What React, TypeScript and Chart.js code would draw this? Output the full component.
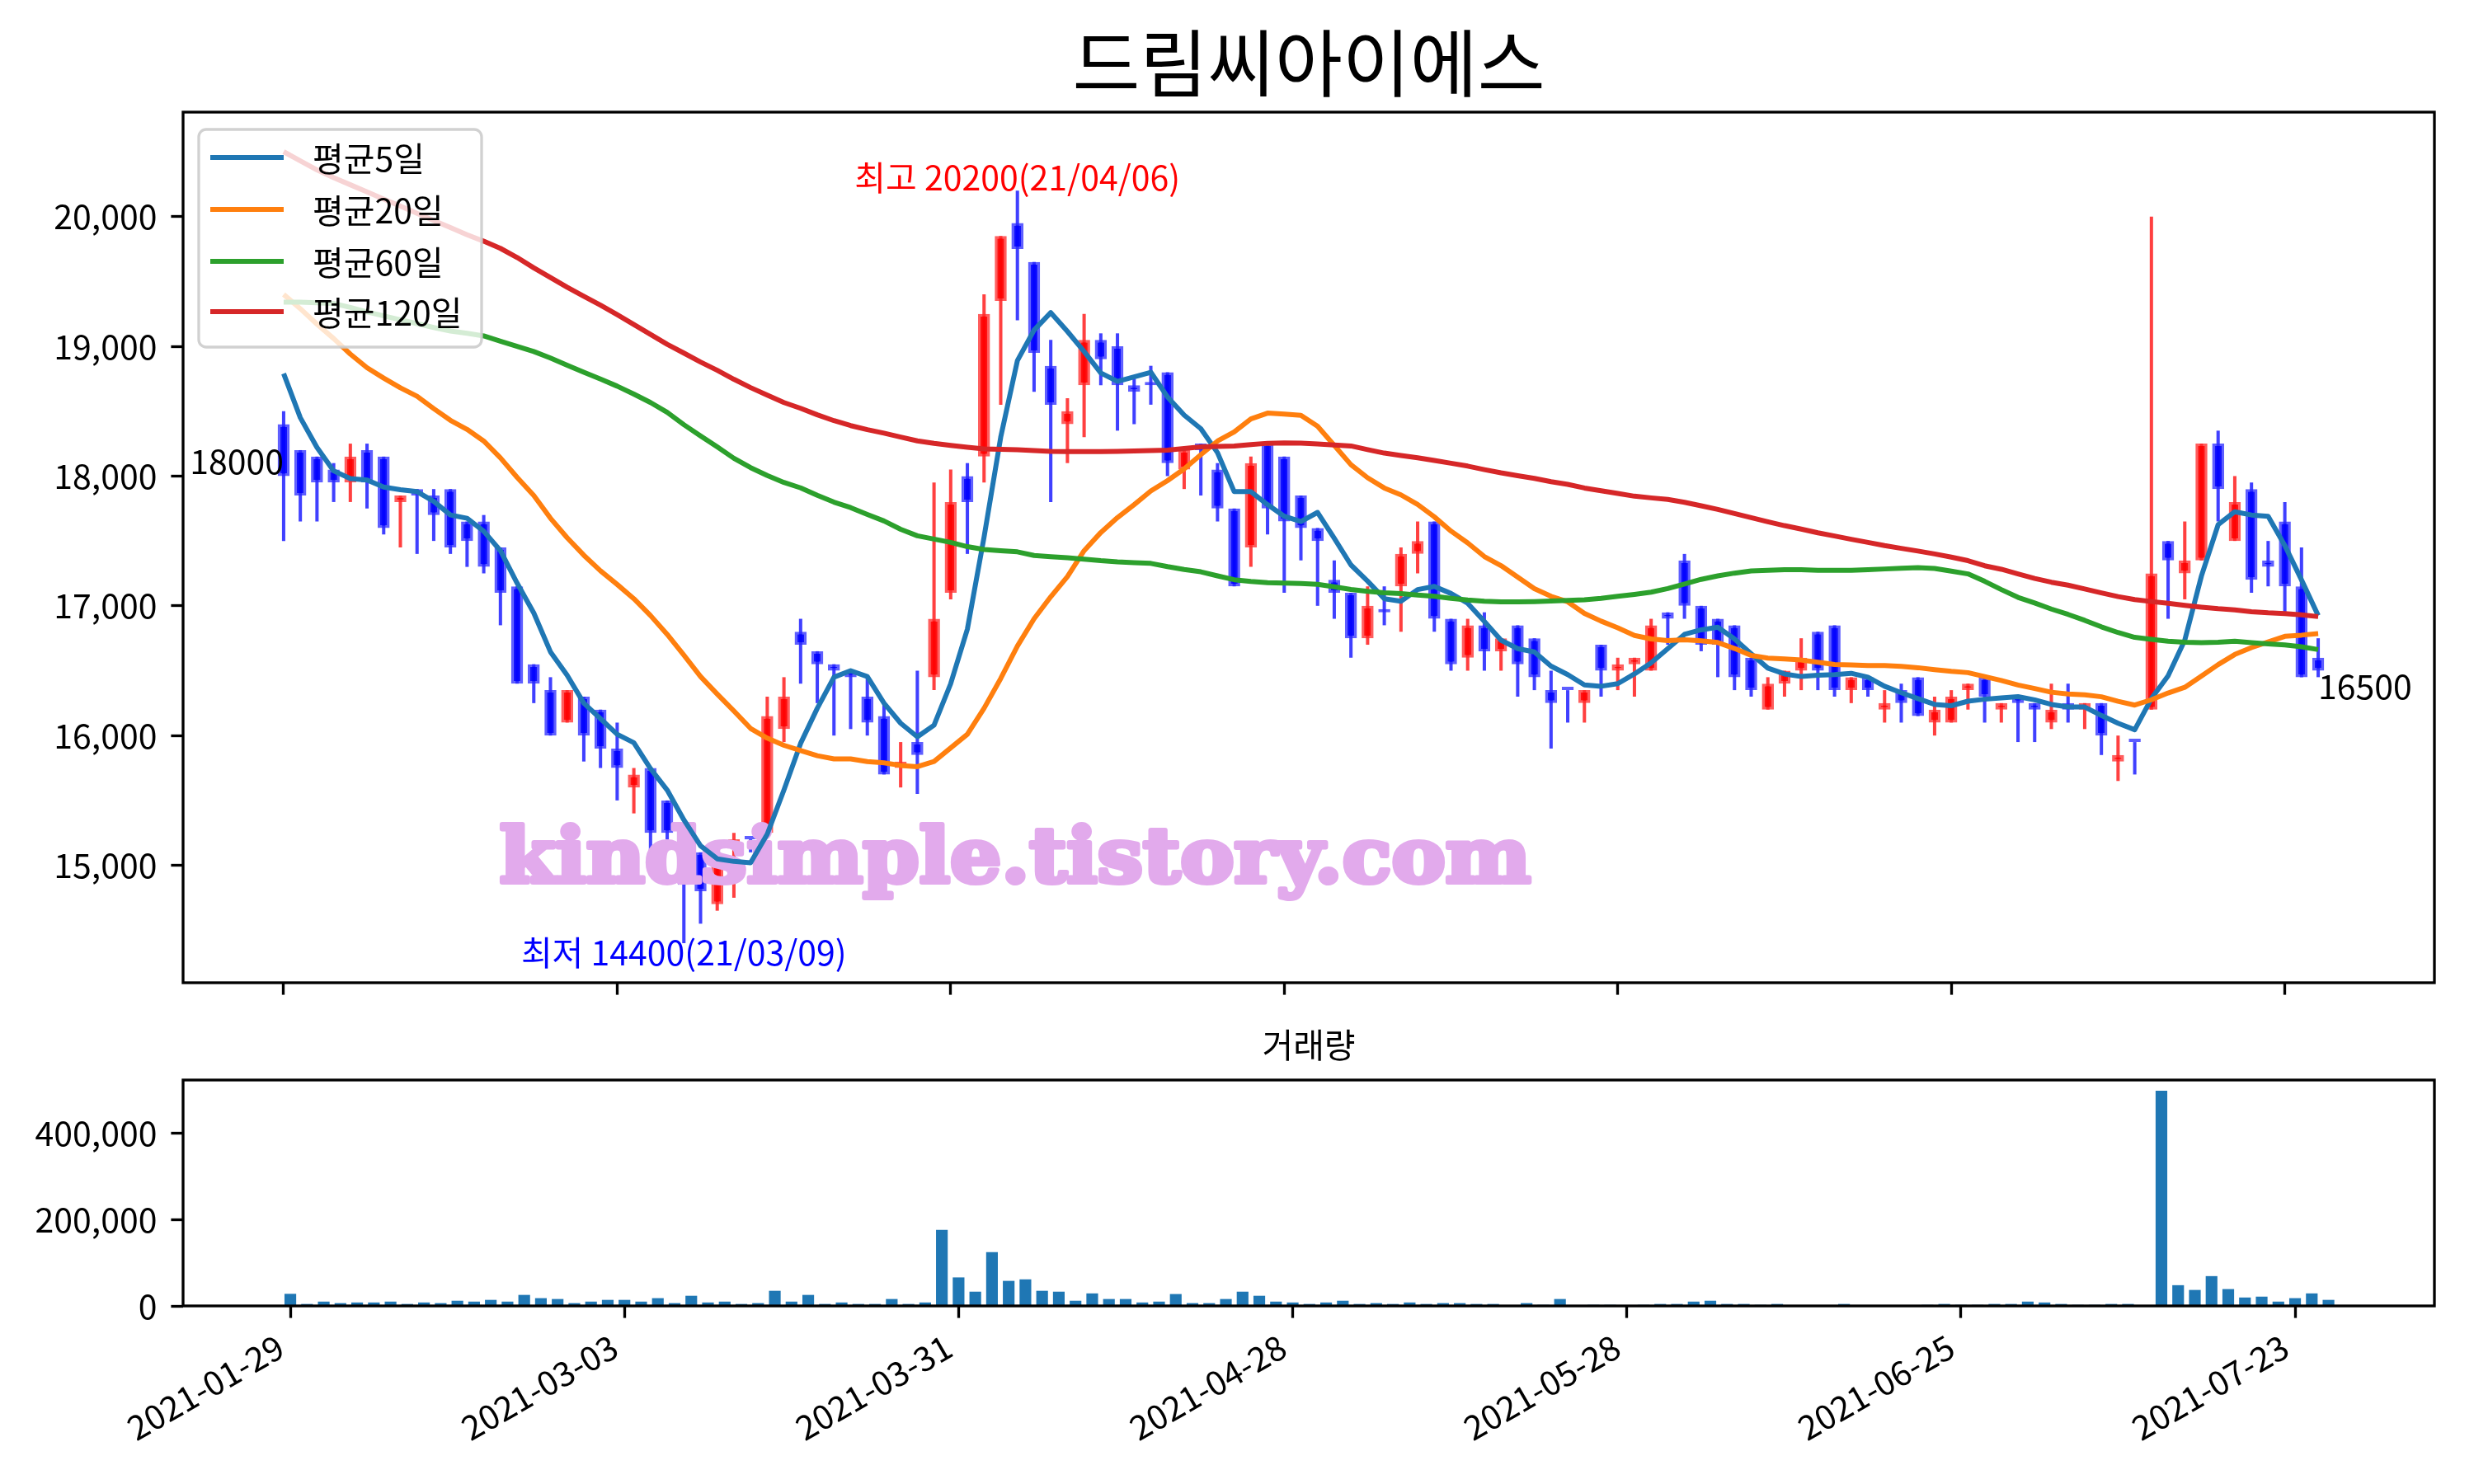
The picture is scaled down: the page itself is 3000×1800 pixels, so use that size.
import React, { useEffect, useRef } from "react";
import { Chart, registerables } from "chart.js";

Chart.register(...registerables);

const FONT = '"Noto Sans CJK KR", "Noto Sans", sans-serif';

const TITLE = "드림씨아이에스";
const VOLUME_TITLE = "거래량";
const MA_LABELS = ["평균5일", "평균20일", "평균60일", "평균120일"];
const MA_COLORS = ["#1f77b4", "#ff7f0e", "#2ca02c", "#d62728"];
const TICK_INDEX = [0, 20, 40, 60, 80, 100, 120];
const TICK_LABELS = ["2021-01-29", "2021-03-03", "2021-03-31", "2021-04-28", "2021-05-28", "2021-06-25", "2021-07-23"];
const PRICE_TICKS = [15000, 16000, 17000, 18000, 19000, 20000];
const VOLUME_TICKS = [0, 200000, 400000];

const MAX_NOTE = "최고 20200(21/04/06)";
const MAX_INDEX = 44;
const MAX_VALUE = 20200;
const MIN_NOTE = "최저 14400(21/03/09)";
const MIN_INDEX = 24;
const MIN_VALUE = 14400;
const WATERMARK = "kindsimple.tistory.com";

const OPEN = [
  18400, 18200, 18150, 18050, 17950, 18200, 18150, 17800, 17900, 17850,
  17900, 17650, 17650, 17450, 17150, 16550, 16350, 16100, 16300, 16200,
  15900, 15600, 15750, 15500, 15200, 15100, 14700, 15150, 15200, 15250,
  16050, 16800, 16650, 16550, 16500, 16300, 16150, 15750, 15950, 16450,
  17100, 18000, 18150, 19350, 19950, 19650, 18850, 18400, 18700, 19050,
  19000, 18700, 18700, 18800, 18050, 18250, 18050, 17750, 17450, 18250,
  18150, 17850, 17600, 17200, 17100, 16750, 16950, 17150, 17400, 17650,
  16900, 16600, 16850, 16650, 16850, 16750, 16350, 16350, 16250, 16700,
  16500, 16550, 16500, 16950, 17350, 17000, 16900, 16850, 16600, 16200,
  16400, 16500, 16800, 16850, 16350, 16450, 16200, 16350, 16450, 16100,
  16100, 16350, 16450, 16200, 16300, 16250, 16100, 16250, 16200, 16250,
  15800, 15950, 16200, 17500, 17250, 17350, 18250, 17500, 17900, 17350,
  17650, 17150, 16600,
];
const HIGH = [
  18500, 18200, 18150, 18100, 18250, 18250, 18150, 17850, 17900, 17900,
  17900, 17650, 17700, 17450, 17150, 16550, 16450, 16350, 16300, 16200,
  16100, 15750, 15750, 15500, 15250, 15100, 15100, 15250, 15200, 16300,
  16450, 16900, 16650, 16550, 16500, 16450, 16250, 15950, 16500, 17950,
  18050, 18100, 19400, 19850, 20200, 19650, 19050, 18600, 19250, 19100,
  19100, 18750, 18850, 18800, 18200, 18250, 18100, 17750, 18150, 18250,
  18150, 17850, 17600, 17350, 17100, 17150, 17150, 17450, 17650, 17650,
  16900, 16900, 16950, 16750, 16850, 16750, 16500, 16350, 16350, 16700,
  16600, 16600, 16900, 16950, 17400, 17000, 16900, 16850, 16600, 16450,
  16500, 16750, 16800, 16850, 16450, 16450, 16350, 16400, 16450, 16300,
  16350, 16400, 16450, 16250, 16300, 16250, 16400, 16400, 16250, 16250,
  16000, 15950, 20000, 17500, 17650, 18250, 18350, 18000, 17950, 17500,
  17800, 17450, 16750,
];
const LOW = [
  17500, 17650, 17650, 17800, 17800, 17750, 17550, 17450, 17400, 17500,
  17400, 17300, 17250, 16850, 16400, 16250, 16000, 16100, 15800, 15750,
  15500, 15400, 14950, 15200, 14400, 14550, 14650, 14750, 15100, 15250,
  15950, 16400, 16250, 16000, 16050, 16000, 15700, 15600, 15550, 16350,
  17050, 17400, 17950, 18550, 19200, 18650, 17800, 18100, 18300, 18700,
  18350, 18400, 18550, 18000, 17900, 17850, 17650, 17150, 17300, 17550,
  17100, 17350, 17000, 16900, 16600, 16700, 16850, 16800, 17250, 16800,
  16500, 16500, 16500, 16500, 16300, 16350, 15900, 16100, 16100, 16300,
  16350, 16300, 16500, 16700, 16900, 16650, 16450, 16350, 16300, 16200,
  16300, 16350, 16350, 16300, 16250, 16300, 16100, 16100, 16150, 16000,
  16100, 16200, 16100, 16100, 15950, 15950, 16050, 16100, 16050, 15850,
  15650, 15700, 16200, 16900, 17050, 17350, 17650, 17500, 17100, 17150,
  16950, 16450, 16450,
];
const CLOSE = [
  18000, 17850, 17950, 17950, 18150, 17950, 17600, 17850, 17850, 17700,
  17450, 17500, 17300, 17100, 16400, 16400, 16000, 16350, 16000, 15900,
  15750, 15700, 15250, 15250, 14850, 14800, 15050, 15200, 15200, 16150,
  16300, 16700, 16550, 16500, 16450, 16100, 15700, 15800, 15850, 16900,
  17800, 17800, 19250, 19850, 19750, 18950, 18550, 18500, 19050, 18900,
  18700, 18650, 18700, 18100, 18200, 18200, 17750, 17150, 18100, 17750,
  17650, 17600, 17500, 17100, 16750, 17000, 16950, 17400, 17500, 16900,
  16550, 16850, 16650, 16750, 16550, 16450, 16250, 16350, 16350, 16500,
  16550, 16600, 16850, 16900, 17000, 16700, 16700, 16450, 16350, 16400,
  16500, 16600, 16500, 16350, 16450, 16350, 16250, 16250, 16150, 16200,
  16300, 16400, 16300, 16250, 16250, 16200, 16200, 16200, 16250, 16000,
  15850, 15950, 17250, 17350, 17350, 18250, 17900, 17800, 17200, 17300,
  17150, 16450, 16500,
];
const MA5 = [
  18790, 18450, 18220, 18040, 17980, 17970, 17915, 17895, 17880, 17805,
  17700, 17675, 17575, 17425, 17175, 16945, 16645, 16465, 16250, 16130,
  16010, 15945, 15745, 15580, 15350, 15150, 15050, 15030, 15020, 15240,
  15580, 15940, 16210, 16450, 16500, 16455, 16250, 16095, 15990, 16080,
  16400, 16820, 17530, 18300, 18890, 19125, 19260, 19115, 18960, 18795,
  18730, 18765, 18800, 18610, 18470, 18365, 18180, 17880, 17880, 17780,
  17690, 17650, 17720, 17520, 17315, 17190, 17055, 17035, 17125, 17150,
  17095, 17020, 16880, 16735, 16670, 16645, 16535, 16470, 16390, 16380,
  16400, 16475, 16560, 16670, 16780, 16815, 16835, 16745, 16630, 16520,
  16475, 16455, 16465, 16470, 16480, 16450, 16380, 16330, 16285, 16240,
  16230, 16265, 16280, 16290, 16300, 16275, 16240, 16220, 16220, 16155,
  16095, 16045, 16285, 16460, 16735, 17230, 17625, 17725, 17700, 17690,
  17465, 17200, 16925,
];
const MA20 = [
  19400, 19290, 19170, 19060, 18940, 18835, 18755, 18680, 18615, 18520,
  18430, 18360, 18270, 18140, 17990, 17850, 17675, 17525, 17390, 17270,
  17165, 17055, 16925, 16780, 16620, 16455, 16320, 16190, 16055, 15980,
  15925, 15885, 15845, 15820, 15820, 15800, 15790, 15770, 15760, 15800,
  15905, 16010, 16210, 16440, 16690, 16900, 17070, 17225, 17425, 17565,
  17680, 17780, 17885, 17965, 18055, 18165, 18270, 18340, 18440, 18485,
  18478, 18468, 18384, 18236, 18088, 17987, 17908, 17855, 17781, 17686,
  17576, 17485, 17380, 17310, 17221, 17132, 17073, 17031, 16942, 16882,
  16830, 16772, 16745, 16732, 16738, 16730, 16717, 16671, 16618, 16597,
  16590, 16582, 16565, 16548, 16544, 16540, 16540, 16533, 16523, 16508,
  16495, 16485, 16455, 16425, 16390, 16363, 16334, 16320, 16314, 16299,
  16264, 16235, 16276, 16328, 16372, 16459, 16547, 16625, 16678, 16722,
  16765, 16774, 16786,
];
const MA60 = [
  19340, 19340, 19335, 19330, 19300, 19265, 19235, 19205, 19175, 19145,
  19118, 19100, 19080, 19040, 19000, 18960, 18910, 18855, 18800, 18748,
  18693, 18632, 18567, 18491, 18396, 18309, 18225, 18137, 18065, 18004,
  17951, 17909, 17852, 17799, 17757, 17704, 17654, 17590, 17540, 17514,
  17489, 17456, 17434, 17425, 17416, 17388, 17379, 17370, 17360, 17348,
  17339, 17333, 17327, 17302, 17280, 17262, 17231, 17201, 17188, 17179,
  17175, 17172, 17166, 17147, 17126, 17111, 17100, 17094, 17083, 17073,
  17058, 17045, 17035, 17031, 17031, 17033, 17037, 17041, 17047, 17058,
  17073, 17088, 17105, 17133, 17168, 17204, 17231, 17252, 17269, 17274,
  17278, 17278, 17274, 17274, 17274, 17278, 17284, 17290, 17295, 17288,
  17267, 17246, 17189, 17125, 17065, 17022, 16975, 16934, 16888, 16838,
  16794, 16757, 16742, 16727, 16719, 16716, 16719, 16727, 16716, 16707,
  16698, 16684, 16663,
];
const MA120 = [
  20500, 20430, 20360, 20300, 20245, 20190, 20135, 20080, 20025, 19970,
  19915, 19860, 19810, 19755, 19685, 19605, 19530, 19455, 19385, 19317,
  19244, 19168, 19092, 19016, 18948, 18879, 18815, 18746, 18682, 18624,
  18567, 18522, 18472, 18427, 18389, 18358, 18331, 18301, 18271, 18252,
  18236, 18222, 18209, 18206, 18203, 18197, 18191, 18188, 18188, 18188,
  18191, 18194, 18197, 18200, 18212, 18225, 18228, 18231, 18243, 18253,
  18256, 18254, 18247, 18240, 18232, 18204, 18177, 18158, 18141, 18120,
  18099, 18077, 18050, 18025, 18003, 17982, 17957, 17936, 17908, 17887,
  17866, 17845, 17832, 17820, 17798, 17771, 17743, 17711, 17680, 17648,
  17618, 17591, 17563, 17538, 17513, 17489, 17464, 17443, 17422, 17400,
  17375, 17348, 17309, 17282, 17246, 17211, 17182, 17159, 17130, 17100,
  17071, 17048, 17033, 17019, 17004, 16990, 16978, 16969, 16955, 16946,
  16940, 16931, 16917,
];
const VOLUME = [
  28000, 4500, 10000, 6500, 8000, 8000, 10000, 4500, 8000, 6500,
  12000, 10000, 14000, 10000, 25500, 18000, 16000, 6500, 10000, 14000,
  14000, 10000, 18000, 6500, 23500, 8000, 10000, 4500, 6500, 35000,
  10000, 25500, 4500, 8000, 4500, 4500, 16000, 4500, 8000, 176000,
  66000, 33000, 124500, 58000, 61500, 35000, 33000, 12000, 29000, 16000,
  16000, 8000, 10000, 27500, 6500, 6500, 16000, 33000, 23500, 10000,
  8000, 4500, 8000, 12000, 4500, 6500, 4500, 8000, 4500, 6500,
  6500, 4500, 4500, 500, 6500, 2500, 16000, 500, 2500, 2500,
  500, 2500, 4500, 4500, 10000, 12000, 4500, 4500, 2500, 4500,
  500, 500, 500, 4500, 500, 500, 500, 500, 2500, 4500,
  2500, 2500, 4500, 4500, 10000, 8000, 4500, 2500, 2500, 4500,
  4500, 500, 498000, 48000, 37000, 69000, 39000, 19500, 21500, 10000,
  18000, 29000, 14000,
];

// layout (canvas pixels)
const W = 3000;
const MAIN_H = 1240;
const VOL_H = 560;
const AX_LEFT = 222;
const AX_RIGHT = 2952;
const MAIN_TOP = 136;
const MAIN_BOTTOM = 1192;
const VOL_TOP = 1310 - MAIN_H;
const VOL_BOTTOM = 1584 - MAIN_H;
const SPINE = 3.33;
const TICK_LEN = 14.6;
const FS = 41;

const IDX = OPEN.map((_, i) => i);
const up = (i: number) => CLOSE[i] > OPEN[i];

function frame(chart: any) {
  const { ctx, chartArea: a } = chart;
  ctx.save();
  ctx.strokeStyle = "#000";
  ctx.lineWidth = SPINE;
  ctx.strokeRect(a.left, a.top, a.right - a.left, a.bottom - a.top);
  ctx.restore();
}

function gridOpts() {
  return {
    display: true,
    offset: false,
    drawOnChartArea: false,
    drawTicks: true,
    tickLength: TICK_LEN,
    tickWidth: SPINE,
    tickColor: "#000",
  };
}

function drawLegend(ctx: CanvasRenderingContext2D) {
  const x0 = 241, y0 = 157, x1 = 584, y1 = 421, r = 9;
  ctx.save();
  ctx.beginPath();
  ctx.moveTo(x0 + r, y0);
  ctx.arcTo(x1, y0, x1, y1, r);
  ctx.arcTo(x1, y1, x0, y1, r);
  ctx.arcTo(x0, y1, x0, y0, r);
  ctx.arcTo(x0, y0, x1, y0, r);
  ctx.closePath();
  ctx.fillStyle = "rgba(255,255,255,0.8)";
  ctx.fill();
  ctx.strokeStyle = "rgba(204,204,204,0.9)";
  ctx.lineWidth = 3.3;
  ctx.stroke();
  const rows = [191, 254, 317, 378];
  MA_LABELS.forEach((lab, i) => {
    ctx.beginPath();
    ctx.moveTo(255, rows[i]);
    ctx.lineTo(344, rows[i]);
    ctx.strokeStyle = MA_COLORS[i];
    ctx.lineWidth = 6;
    ctx.stroke();
    ctx.fillStyle = "#000";
    ctx.font = `${FS}px ${FONT}`;
    ctx.textAlign = "left";
    ctx.textBaseline = "middle";
    ctx.fillText(lab, 379, rows[i] + 1);
  });
  ctx.restore();
}

function drawWatermark(ctx: CanvasRenderingContext2D) {
  ctx.save();
  ctx.font = `bold 92px "DejaVu Serif", "Liberation Serif", serif`;
  const w = ctx.measureText(WATERMARK).width;
  ctx.translate(1231, 1070);
  ctx.scale(1257 / (w + 6), 1);
  ctx.textAlign = "center";
  ctx.textBaseline = "alphabetic";
  ctx.fillStyle = "rgb(226,170,236)";
  ctx.strokeStyle = "rgb(226,170,236)";
  ctx.lineWidth = 6;
  ctx.lineJoin = "round";
  ctx.strokeText(WATERMARK, 0, 0);
  ctx.fillText(WATERMARK, 0, 0);
  ctx.restore();
}

function mainConfig(): any {
  const lines = [MA5, MA20, MA60, MA120].map((arr, k) => ({
    type: "line",
    label: MA_LABELS[k],
    data: arr.map((v, i) => ({ x: i, y: v })),
    borderColor: MA_COLORS[k],
    borderWidth: 6,
    pointRadius: 0,
    tension: 0,
    borderJoinStyle: "round",
    order: 4 - k,
  }));
  return {
    type: "bar",
    data: {
      datasets: [
        {
          type: "bar",
          label: "wick",
          data: IDX.map((i) => ({ x: i, y: [LOW[i], HIGH[i]] })),
          backgroundColor: IDX.map((i) => (up(i) ? "rgba(255,0,0,0.75)" : "rgba(0,0,255,0.75)")),
          barPercentage: 0.2,
          categoryPercentage: 1,
          grouped: false,
          order: 6,
        },
        {
          type: "bar",
          label: "body",
          data: IDX.map((i) => ({ x: i, y: [OPEN[i], CLOSE[i]] })),
          backgroundColor: IDX.map((i) => (up(i) ? "rgba(255,0,0,0.93)" : "rgba(0,0,255,0.93)")),
          borderColor: IDX.map((i) => (up(i) ? "rgba(255,40,40,0.75)" : "rgba(40,40,255,0.75)")),
          borderWidth: 3,
          borderSkipped: false,
          barPercentage: 0.72,
          categoryPercentage: 1,
          grouped: false,
          minBarLength: 4,
          order: 5,
        },
        ...lines,
      ],
    },
    options: {
      responsive: false,
      maintainAspectRatio: false,
      animation: false,
      devicePixelRatio: 1,
      events: [],
      layout: { padding: { left: 0, right: W - AX_RIGHT, top: MAIN_TOP, bottom: 0 } },
      plugins: { legend: { display: false }, tooltip: { enabled: false }, title: { display: false } },
      scales: {
        x: {
          type: "linear",
          min: -6.03,
          max: 128.97,
          offset: false,
          grid: gridOpts(),
          border: { display: false },
          ticks: { callback: () => "", autoSkip: false, maxRotation: 0, font: { size: 10 } },
          afterBuildTicks: (s: any) => {
            s.ticks = TICK_INDEX.map((v) => ({ value: v }));
          },
          afterFit: (s: any) => {
            s.height = MAIN_H - MAIN_BOTTOM;
          },
        },
        y: {
          type: "linear",
          position: "left",
          min: 14095,
          max: 20805,
          grid: gridOpts(),
          border: { display: false },
          ticks: {
            color: "#000",
            padding: 17,
            font: { size: FS, family: FONT },
            callback: (v: any) => Number(v).toLocaleString("en-US"),
          },
          afterBuildTicks: (s: any) => {
            s.ticks = PRICE_TICKS.map((v) => ({ value: v }));
          },
          afterFit: (s: any) => {
            s.width = AX_LEFT;
          },
        },
      },
    },
    plugins: [
      {
        id: "mainDecor",
        afterDatasetDraw(chart: any, args: any) {
          if (args.index === 1) drawWatermark(chart.ctx);
        },
        afterDatasetsDraw(chart: any) {
          const ctx = chart.ctx;
          const xs = chart.scales.x;
          const ys = chart.scales.y;
          ctx.save();
          ctx.font = `${FS}px ${FONT}`;
          ctx.textBaseline = "alphabetic";
          ctx.textAlign = "center";
          ctx.fillStyle = "#ff0000";
          ctx.fillText(MAX_NOTE, xs.getPixelForValue(MAX_INDEX), ys.getPixelForValue(MAX_VALUE));
          ctx.fillStyle = "#0000ff";
          ctx.fillText(MIN_NOTE, xs.getPixelForValue(MIN_INDEX), ys.getPixelForValue(MIN_VALUE) + 27);
          ctx.fillStyle = "#000";
          ctx.textAlign = "right";
          ctx.fillText(String(CLOSE[0]), xs.getPixelForValue(0), ys.getPixelForValue(CLOSE[0]) - 2);
          const last = CLOSE.length - 1;
          ctx.textAlign = "left";
          ctx.fillText(String(CLOSE[last]), xs.getPixelForValue(last), ys.getPixelForValue(CLOSE[last]) + 34);
          ctx.restore();
        },
        afterDraw(chart: any) {
          frame(chart);
          drawLegend(chart.ctx);
          const ctx = chart.ctx;
          ctx.save();
          ctx.font = `89px ${FONT}`;
          ctx.fillStyle = "#000";
          ctx.textAlign = "center";
          ctx.textBaseline = "middle";
          ctx.fillText(TITLE, (AX_LEFT + AX_RIGHT) / 2, 76);
          ctx.restore();
        },
      },
    ],
  };
}

function volumeConfig(): any {
  return {
    type: "bar",
    data: {
      datasets: [
        {
          label: VOLUME_TITLE,
          data: VOLUME.map((v, i) => ({ x: i, y: v })),
          backgroundColor: "#1f77b4",
          barPercentage: 0.7,
          categoryPercentage: 1,
        },
      ],
    },
    options: {
      responsive: false,
      maintainAspectRatio: false,
      animation: false,
      devicePixelRatio: 1,
      events: [],
      layout: { padding: { left: 0, right: W - AX_RIGHT, top: VOL_TOP, bottom: 0 } },
      plugins: { legend: { display: false }, tooltip: { enabled: false }, title: { display: false } },
      scales: {
        x: {
          type: "linear",
          min: -6.42,
          max: 128.34,
          offset: false,
          grid: gridOpts(),
          border: { display: false },
          ticks: {
            color: "#000",
            autoSkip: false,
            minRotation: 30,
            maxRotation: 30,
            padding: 10,
            labelOffset: -12,
            font: { size: FS, family: FONT },
            callback: (v: any) => {
              const k = TICK_INDEX.indexOf(Number(v));
              return k >= 0 ? TICK_LABELS[k] : "";
            },
          },
          afterBuildTicks: (s: any) => {
            s.ticks = TICK_INDEX.map((v) => ({ value: v }));
          },
          afterFit: (s: any) => {
            s.height = VOL_H - VOL_BOTTOM;
          },
        },
        y: {
          type: "linear",
          position: "left",
          min: 0,
          max: Math.max(...VOLUME) * 1.05,
          grid: gridOpts(),
          border: { display: false },
          ticks: {
            color: "#000",
            padding: 17,
            font: { size: FS, family: FONT },
            callback: (v: any) => Number(v).toLocaleString("en-US"),
          },
          afterBuildTicks: (s: any) => {
            s.ticks = VOLUME_TICKS.map((v) => ({ value: v }));
          },
          afterFit: (s: any) => {
            s.width = AX_LEFT;
          },
        },
      },
    },
    plugins: [
      {
        id: "volDecor",
        afterDraw(chart: any) {
          frame(chart);
          const ctx = chart.ctx;
          ctx.save();
          ctx.font = `${FS}px ${FONT}`;
          ctx.fillStyle = "#000";
          ctx.textAlign = "center";
          ctx.textBaseline = "middle";
          ctx.fillText(VOLUME_TITLE, (AX_LEFT + AX_RIGHT) / 2, 1267 - MAIN_H);
          ctx.restore();
        },
      },
    ],
  };
}

export default function App() {
  const mainRef = useRef<HTMLCanvasElement>(null);
  const volRef = useRef<HTMLCanvasElement>(null);
  useEffect(() => {
    Chart.defaults.font.family = FONT;
    const c1 = new Chart(mainRef.current as HTMLCanvasElement, mainConfig());
    const c2 = new Chart(volRef.current as HTMLCanvasElement, volumeConfig());
    return () => {
      c1.destroy();
      c2.destroy();
    };
  }, []);
  return (
    <div style={{ position: "absolute", left: 0, top: 0, width: W, height: MAIN_H + VOL_H, background: "#fff", overflow: "hidden" }}>
      <canvas ref={mainRef} width={W} height={MAIN_H} style={{ position: "absolute", left: 0, top: 0, width: W, height: MAIN_H }} />
      <canvas ref={volRef} width={W} height={VOL_H} style={{ position: "absolute", left: 0, top: MAIN_H, width: W, height: VOL_H }} />
    </div>
  );
}
